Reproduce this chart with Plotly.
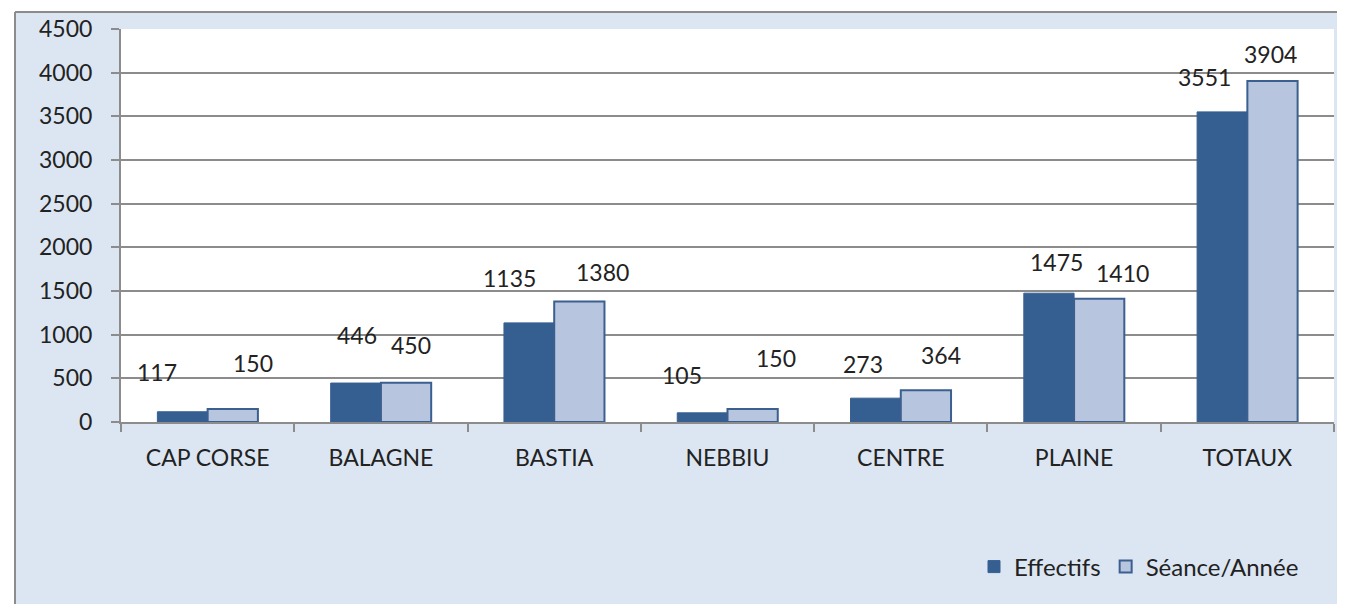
import plotly.graph_objects as go

categories = ["CAP CORSE", "BALAGNE", "BASTIA", "NEBBIU", "CENTRE", "PLAINE", "TOTAUX"]
effectifs = [117, 446, 1135, 105, 273, 1475, 3551]
seances = [150, 450, 1380, 150, 364, 1410, 3904]
y_ticks = [0, 500, 1000, 1500, 2000, 2500, 3000, 3500, 4000, 4500]

# label placement offsets (pixels): (dx from bar centre, dy above bar top)
eff_off = [(-26, 40), (1, 48), (-20, 45), (-20, 38), (-13, 34), (8, 31), (-18, 35)]
sea_off = [(20, 46), (5, 38), (23, 29), (23, 51), (15, 35), (23, 26), (-2, 27)]

FONT = "Lato"
TXT = "#222222"
DARK = "#365F91"
LIGHT = "#B8C5DF"
EDGE = "#3B5F8E"
BG = "#DCE6F2"

PAGE = 8  # default body margin of the html page
W, H = 1345 - PAGE, 604 - PAGE
L, R, T, B = 121 - PAGE, 11, 29 - PAGE, 182
pw, ph = W - L - R, H - T - B

def px2x(px):
    return (px - PAGE - L) / pw

def py2y(py):
    return (H - B - (py - PAGE)) / ph

fig = go.Figure()
fig.add_bar(x=categories, y=effectifs, name="Effectifs",
            marker=dict(color=DARK, line=dict(color=DARK, width=1)))
fig.add_bar(x=categories, y=seances, name="Séance/Année",
            marker=dict(color=LIGHT, line=dict(color=EDGE, width=2)))

bar_half = (1 - 0.42) / 4 * pw / len(categories)
ann = []
for i, c in enumerate(categories):
    for vals, offs, sgn in ((effectifs, eff_off, -1), (seances, sea_off, 1)):
        dx, dy = offs[i]
        ann.append(dict(x=c, y=vals[i], xref="x", yref="y", text=str(vals[i]),
                        showarrow=False, xshift=sgn * bar_half + dx, yshift=dy,
                        font=dict(family=FONT, size=23, color=TXT)))

shapes = [
    # white margin outside the chart frame
    dict(type="rect", xref="paper", yref="paper", x0=px2x(-5), x1=px2x(1350),
         y0=py2y(12), y1=py2y(-5), fillcolor="white", line=dict(width=0), layer="below"),
    dict(type="rect", xref="paper", yref="paper", x0=px2x(-5), x1=px2x(15),
         y0=py2y(610), y1=py2y(-5), fillcolor="white", line=dict(width=0), layer="below"),
    # frame lines
    dict(type="line", xref="paper", yref="paper", x0=px2x(15), x1=px2x(1350),
         y0=py2y(12), y1=py2y(12), line=dict(color="#8C8C8C", width=2), layer="below"),
    dict(type="line", xref="paper", yref="paper", x0=px2x(15), x1=px2x(15),
         y0=py2y(12), y1=py2y(610), line=dict(color="#8C8C8C", width=2), layer="below"),
]

fig.update_layout(
    width=W, height=H,
    margin=dict(l=L, r=R, t=T, b=B, autoexpand=False),
    paper_bgcolor=BG, plot_bgcolor="white",
    barmode="group", bargap=0.42, bargroupgap=0,
    font=dict(family=FONT, size=23, color=TXT),
    annotations=ann, shapes=shapes,
    legend=dict(orientation="h", x=px2x(1304), xanchor="right",
                y=py2y(567), yanchor="middle", bgcolor="rgba(0,0,0,0)",
                font=dict(family=FONT, size=24, color=TXT),
                itemwidth=30, tracegroupgap=0),
    xaxis=dict(showgrid=False, showline=True, linecolor="#8C8C8C", linewidth=2,
               ticks="outside", tickson="boundaries", ticklen=8, tickwidth=2,
               tickcolor="#8C8C8C", ticklabelstandoff=14, fixedrange=True,
               automargin=False),
    yaxis=dict(range=[0, 4500], tickvals=y_ticks, showgrid=True,
               gridcolor="#8C8C8C", gridwidth=2, showline=True, linecolor="#8C8C8C",
               linewidth=2, ticks="outside", ticklen=8, tickwidth=2,
               tickcolor="#8C8C8C", ticklabelstandoff=14, zeroline=False,
               fixedrange=True, automargin=False),
)

fig.write_html("out.html")
